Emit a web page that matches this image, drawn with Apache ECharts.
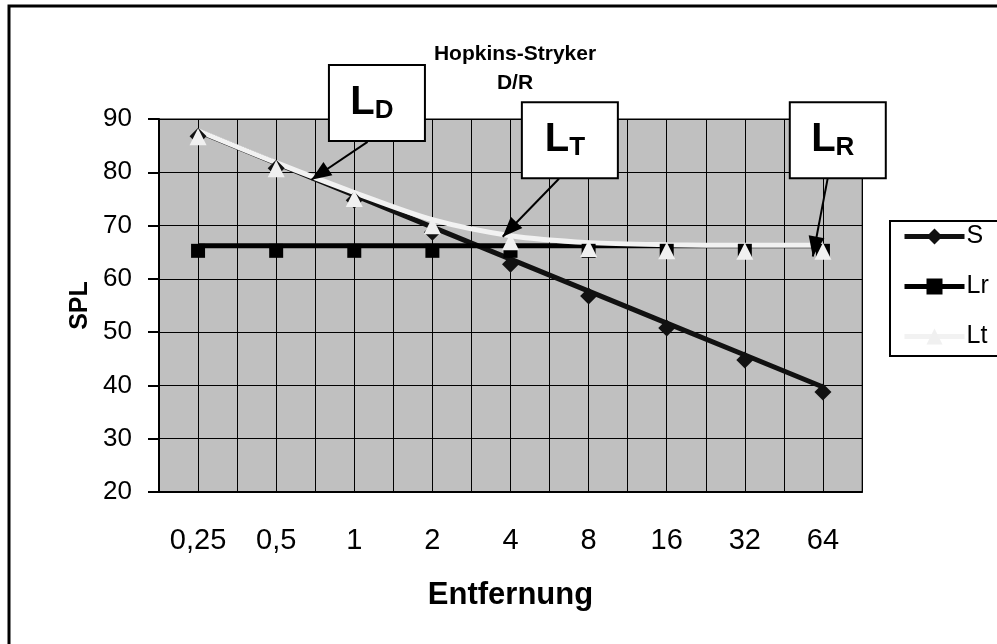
<!DOCTYPE html>
<html>
<head>
<meta charset="utf-8">
<script src="https://cdn.jsdelivr.net/npm/echarts@6/dist/echarts.min.js"></script>
<style>
  html, body { margin: 0; padding: 0; background: #fff; }
  #chart { width: 997px; height: 644px; }
</style>
</head>
<body>
<div id="chart"></div>
<script>
const font = "'Liberation Sans', Arial, sans-serif";

const distances = ["0,25", "0,5", "1", "2", "4", "8", "16", "32", "64"];
const sValues = [87.7, 81.7, 75.7, 69.7, 63.7, 57.7, 51.7, 45.7, 39.7];
const lrValues = [66.2, 66.2, 66.2, 66.2, 66.2, 66.2, 66.2, 66.2, 66.2];
const ltValues = [87.8, 81.8, 76.2, 71.1, 68.1, 66.8, 66.4, 66.3, 66.3];

// callouts: label, subscript, box centre and arrow tip in data units
// (x = category index, y = SPL)
const callouts = [
  { main: "L", sub: "D", box: [2.29, 93.0], from: [2.17, 85.7], to: [1.45, 78.6] },
  { main: "L", sub: "T", box: [4.76, 86.0], from: [4.62, 78.8], to: [3.9, 67.9] },
  { main: "L", sub: "R", box: [8.19, 86.0], from: [8.06, 78.8], to: [7.87, 64.2] },
];

const chart = echarts.init(document.getElementById("chart"));

const options = {
  animation: false,
  textStyle: { fontFamily: font, color: "#000" },
  grid: {
    left: 159,
    right: 135,
    top: 119,
    bottom: 152,
    show: true,
    backgroundColor: "#c0c0c0",
    borderColor: "#808080",
    borderWidth: 2,
  },
  legend: {
    orient: "vertical",
    left: 890,
    top: 221,
    padding: [3, 40, 7, 12],
    itemGap: 25,
    itemWidth: 60,
    itemHeight: 20,
    backgroundColor: "#fff",
    borderColor: "#000",
    borderWidth: 2,
    lineStyle: { width: 5 },
    textStyle: { fontSize: 25, fontFamily: font, color: "#000", padding: [0, 0, 0, -3] },
    data: ["S", "Lr", "Lt"],
  },
  xAxis: [
    {
      type: "category",
      data: distances,
      boundaryGap: true,
      name: "Entfernung",
      nameLocation: "middle",
      nameGap: 88,
      nameTextStyle: { fontSize: 31, fontWeight: "bold", fontFamily: font, color: "#000" },
      axisLine: { onZero: false, lineStyle: { color: "#000", width: 2 } },
      axisTick: { interval: 0, length: 8, lineStyle: { color: "#000", width: 2 } },
      axisLabel: { interval: 0, margin: 34, fontSize: 29, color: "#000", fontFamily: font },
      splitLine: { show: false },
    },
    {
      // hidden helper axis: grid lines at every half category
      type: "value",
      min: -0.5,
      max: 8.5,
      interval: 0.5,
      show: true,
      axisLine: { show: false, onZero: false },
      axisTick: { show: false },
      axisLabel: { show: false },
      splitLine: { show: true, lineStyle: { color: "#000", width: 1 } },
    },
  ],
  yAxis: {
    type: "value",
    min: 20,
    max: 90,
    interval: 10,
    name: "SPL",
    nameLocation: "middle",
    nameGap: 58,
    nameTextStyle: { fontSize: 25, fontWeight: "bold", fontFamily: font, color: "#000" },
    axisLine: { show: true, onZero: false, lineStyle: { color: "#000", width: 2 } },
    axisTick: { show: true, length: 11, lineStyle: { color: "#000", width: 2 } },
    axisLabel: { margin: 27, fontSize: 26, color: "#000", fontFamily: font },
    splitLine: { show: true, lineStyle: { color: "#000", width: 1 } },
  },
  series: [
    {
      name: "S",
      type: "line",
      data: sValues,
      symbol: "diamond",
      symbolSize: 17,
      symbolOffset: [0, 5],
      itemStyle: { color: "#111" },
      lineStyle: { color: "#111", width: 5 },
    },
    {
      name: "Lr",
      type: "line",
      data: lrValues,
      symbol: "rect",
      symbolSize: 14,
      symbolOffset: [0, 5],
      itemStyle: { color: "#000" },
      lineStyle: { color: "#000", width: 5 },
    },
    {
      name: "Lt",
      type: "line",
      data: ltValues,
      smooth: 0.3,
      symbol: "triangle",
      symbolSize: 17,
      symbolOffset: [0, 6],
      itemStyle: { color: "#f0f0f0" },
      lineStyle: { color: "#f2f2f2", width: 5 },
    },
  ],
};

chart.setOption(options);

const toPx = (p) => chart.convertToPixel({ xAxisIndex: 1, yAxisIndex: 0 }, p);

const graphics = [
  {
    type: "rect",
    shape: { x: 9, y: 6, width: 1100, height: 700 },
    style: { fill: "none", stroke: "#000", lineWidth: 3 },
    silent: true,
    z: 100,
  },
  {
    type: "text",
    x: 515,
    y: 40,
    style: {
      text: "Hopkins-Stryker\nD/R",
      align: "center",
      fontSize: 21,
      fontWeight: "bold",
      fontFamily: font,
      lineHeight: 29,
      fill: "#000",
    },
    z: 100,
  },
];

callouts.forEach((c) => {
  const b = toPx(c.box);
  const f = toPx(c.from);
  const t = toPx(c.to);
  const w = 96, h = 76;
  graphics.push({
    type: "line",
    shape: { x1: f[0], y1: f[1], x2: t[0], y2: t[1] },
    style: { stroke: "#000", lineWidth: 2 },
    z: 100,
  });
  const dx = t[0] - f[0], dy = t[1] - f[1];
  const len = Math.sqrt(dx * dx + dy * dy);
  const ux = dx / len, uy = dy / len;
  const hl = 20, hw = 8;
  const bx = t[0] - ux * hl, by = t[1] - uy * hl;
  graphics.push({
    type: "polygon",
    shape: {
      points: [
        [t[0], t[1]],
        [bx - uy * hw, by + ux * hw],
        [bx + uy * hw, by - ux * hw],
      ],
    },
    style: { fill: "#000" },
    z: 100,
  });
  graphics.push({
    type: "rect",
    shape: { x: b[0] - w / 2, y: b[1] - h / 2, width: w, height: h },
    style: { fill: "#fff", stroke: "#000", lineWidth: 2 },
    z: 101,
  });
  graphics.push({
    type: "text",
    x: b[0] - 5,
    y: b[1],
    style: {
      text: "{l|" + c.main + "}{s|" + c.sub + "}",
      align: "center",
      verticalAlign: "middle",
      rich: {
        l: { fontSize: 40, fontWeight: "bold", fontFamily: font, fill: "#000", lineHeight: 44 },
        s: { fontSize: 26, fontWeight: "bold", fontFamily: font, fill: "#000", lineHeight: 44, padding: [16, 0, 0, 0] },
      },
    },
    z: 102,
  });
});

chart.setOption({ graphic: graphics });
</script>
</body>
</html>
